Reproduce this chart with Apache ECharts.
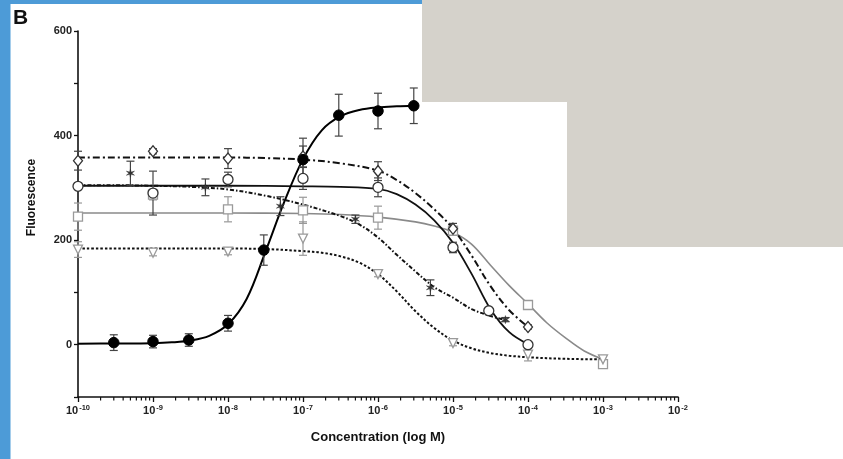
<!DOCTYPE html>
<html>
<head>
<meta charset="utf-8">
<script src="https://cdn.jsdelivr.net/npm/echarts@6/dist/echarts.min.js"></script>
<style>
html,body{margin:0;padding:0;background:#ffffff;}
#chart{width:843px;height:459px;}
</style>
</head>
<body>
<div id="chart"></div>
<script>
// ---------- tick labels ----------
const xTickExponents = [-10, -9, -8, -7, -6, -5, -4, -3, -2];
const yTickLabels = [0, 200, 400, 600];

// ---------- data (concentration in M, fluorescence mean and error) ----------
const filledConc = [3e-10, 1e-9, 3e-9, 1e-8, 3e-8, 1e-7, 3e-7, 1e-6, 3e-6];
const filledMean = [4, 6, 9, 41, 181, 354, 439, 447, 457];
const filledErr  = [15, 12, 12, 15, 29, 41, 40, 34, 34];
const filledFitLogConc = [-10, -9.5, -9, -8.75, -8.5, -8.25, -8, -7.75, -7.5, -7.25, -7, -6.75, -6.5, -6.25, -6, -5.75, -5.52];
const filledFit        = [2, 2.3, 3, 4.5, 8, 17, 39, 88, 178, 273, 355, 410, 437, 449, 454, 456, 457];

const circleConc = [1e-10, 1e-9, 1e-8, 1e-7, 1e-6, 1e-5, 3e-5, 1e-4];
const circleMean = [303, 290, 316, 318, 301, 186, 65, 0];
const circleErr  = [6, 42, 14, 21, 18, 10, 5, 4];
const circleFitLogConc = [-10, -9, -8, -7, -6.5, -6, -5.75, -5.5, -5.25, -5, -4.75, -4.5, -4.25, -4];
const circleFit        = [304, 304, 304, 303, 302, 298, 288, 268, 238, 195, 135, 68, 24, 1];

const diamondConc = [1e-10, 1e-9, 1e-8, 1e-7, 1e-6, 1e-5, 1e-4];
const diamondMean = [352, 370, 356, 360, 332, 222, 34];
const diamondErr  = [18, 5, 19, 20, 18, 10, 4];
const diamondFitLogConc = [-10, -9, -8, -7.5, -7, -6.5, -6, -5.75, -5.5, -5.25, -5, -4.75, -4.5, -4.25, -4];
const diamondFit        = [358, 358, 358, 357, 354, 347, 333, 315, 290, 259, 222, 170, 112, 66, 34];

const asteriskConc = [5e-10, 5e-9, 5e-8, 5e-7, 5e-6, 5e-5];
const asteriskMean = [328, 301, 265, 240, 109, 48];
const asteriskErr  = [23, 16, 18, 8, 15, 4];
const asteriskFitLogConc = [-10, -9.5, -9, -8.5, -8, -7.5, -7, -6.5, -6.25, -6, -5.75, -5.5, -5.25, -5, -4.75, -4.5, -4.3];
const asteriskFit        = [305, 305, 304, 302, 297, 285, 268, 246, 230, 205, 172, 140, 110, 90, 68, 55, 47];

const squareConc = [1e-10, 1e-9, 1e-8, 1e-7, 1e-6, 1e-5, 1e-4, 1e-3];
const squareMean = [245, 287, 259, 257, 243, 218, 76, -37];
const squareErr  = [26, 10, 24, 25, 22, 8, 6, 6];
const squareFitLogConc = [-10, -9, -8, -7, -6.5, -6, -5.5, -5.25, -5, -4.75, -4.5, -4.25, -4, -3.75, -3.5, -3.25, -3];
const squareFit        = [252, 252, 252, 251, 249, 244, 235, 227, 215, 192, 152, 113, 78, 42, 13, -12, -28];

const triangleConc = [1e-10, 1e-9, 1e-8, 1e-7, 1e-6, 1e-5, 1e-4, 1e-3];
const triangleMean = [182, 176, 178, 203, 135, 3, -19, -28];
const triangleErr  = [15, 6, 6, 32, 5, 5, 12, 5];
const triangleFitLogConc = [-10, -9, -8, -7.5, -7, -6.75, -6.5, -6.25, -6, -5.75, -5.5, -5.25, -5, -4.75, -4.5, -4.25, -4, -3.5, -3];
const triangleFit        = [184, 184, 184, 183, 179, 176, 169, 157, 135, 102, 64, 32, 8, -7, -16, -21, -24, -27, -28];

// ---------- helpers ----------
const FONT = 'Liberation Sans, Arial, sans-serif';
const pts = (conc, vals) => conc.map((c, i) => [Math.log10(c), vals[i]]);
const fit = (lx, vals) => lx.map((x, i) => [x, vals[i]]);
const bars = (conc, vals, err) => conc.map((c, i) => [Math.log10(c), vals[i] - err[i], vals[i] + err[i]]);

function curveSeries(data, color, width, dash) {
  return {
    type: 'line', data: data, smooth: 0.35,
    showSymbol: false, symbol: 'none', silent: true, z: 2,
    lineStyle: { color: color, width: width, type: dash || 'solid' }
  };
}
function errorSeries(data, color) {
  return {
    type: 'custom', data: data, z: 3, silent: true,
    encode: { x: 0, y: [1, 2] },
    renderItem: function (params, api) {
      const x = api.value(0);
      const top = api.coord([x, api.value(2)]);
      const bot = api.coord([x, api.value(1)]);
      const w = 4;
      const st = { stroke: color, lineWidth: 1.2 };
      return { type: 'group', children: [
        { type: 'line', shape: { x1: top[0], y1: top[1], x2: bot[0], y2: bot[1] }, style: st },
        { type: 'line', shape: { x1: top[0] - w, y1: top[1], x2: top[0] + w, y2: top[1] }, style: st },
        { type: 'line', shape: { x1: bot[0] - w, y1: bot[1], x2: bot[0] + w, y2: bot[1] }, style: st }
      ]};
    }
  };
}
function markerSeries(data, symbol, size, fill, stroke, bw, rotate) {
  return {
    type: 'scatter', data: data, symbol: symbol, symbolSize: size, symbolRotate: rotate || 0,
    z: 4, silent: true,
    itemStyle: { color: fill, borderColor: stroke, borderWidth: bw, opacity: 1 }
  };
}

// minor (2..9) ticks of each decade, drawn through the axis scale
const minorTickPositions = [];
for (let d = -10; d < -2; d++) {
  for (let k = 2; k <= 9; k++) minorTickPositions.push([d + Math.log10(k)]);
}

const asteriskPath = 'path://M0,-10L1.6,-2.8L8.7,-5L3.2,0L8.7,5L1.6,2.8L0,10L-1.6,2.8L-8.7,5L-3.2,0L-8.7,-5L-1.6,-2.8Z';

const chart = echarts.init(document.getElementById('chart'), null, { renderer: 'canvas' });
chart.setOption({
  backgroundColor: '#ffffff',
  animation: false,
  grid: { left: 78, right: 165, top: 31, bottom: 62, containLabel: false },
  xAxis: {
    type: 'value', min: -10, max: -2, interval: 1,
    name: 'Concentration (log M)', nameLocation: 'middle', nameGap: 34,
    nameTextStyle: { fontFamily: FONT, fontSize: 13, fontWeight: 'bold', color: '#111' },
    axisLine: { show: true, onZero: false, lineStyle: { color: '#111', width: 1.6 } },
    axisTick: { show: true, length: 5, lineStyle: { color: '#111', width: 1.3 } },
    splitLine: { show: false },
    axisLabel: {
      margin: 7,
      formatter: function (v) {
        return xTickExponents.indexOf(v) >= 0 ? '{b|10}{s|' + v + '}' : '';
      },
      rich: {
        b: { fontFamily: FONT, fontSize: 11, fontWeight: 'bold', color: '#222', lineHeight: 14 },
        s: { fontFamily: FONT, fontSize: 7.5, fontWeight: 'bold', color: '#222', lineHeight: 9, verticalAlign: 'top', padding: [0, 0, 0, 1] }
      }
    }
  },
  yAxis: {
    type: 'value', min: -100, max: 600, interval: 100,
    name: 'Fluorescence', nameLocation: 'middle', nameGap: 40, nameRotate: 90,
    nameTextStyle: { fontFamily: FONT, fontSize: 12, fontWeight: 'bold', color: '#111', padding: [0, 0, 0, 33] },
    axisLine: { show: true, onZero: false, lineStyle: { color: '#111', width: 1.6 } },
    axisTick: { show: true, length: 4, lineStyle: { color: '#111', width: 1.3 } },
    splitLine: { show: false },
    axisLabel: {
      margin: 6, fontFamily: FONT, fontSize: 11, fontWeight: 'bold', color: '#222',
      formatter: function (v) { return yTickLabels.indexOf(v) >= 0 ? String(v) : ''; }
    }
  },
  series: [
    // minor x ticks
    {
      type: 'custom', data: minorTickPositions, silent: true, clip: false, z: 1,
      encode: { x: 0 },
      renderItem: function (params, api) {
        const p = api.coord([api.value(0), -100]);
        return { type: 'line', shape: { x1: p[0], y1: p[1], x2: p[0], y2: p[1] + 3.5 },
                 style: { stroke: '#111', lineWidth: 1.2 } };
      }
    },
    // fitted curves
    curveSeries(fit(squareFitLogConc, squareFit), '#8a8a8a', 1.6),
    curveSeries(fit(triangleFitLogConc, triangleFit), '#111', 2, [2.5, 2]),
    curveSeries(fit(asteriskFitLogConc, asteriskFit), '#111', 2, [4, 2, 1.5, 2]),
    curveSeries(fit(diamondFitLogConc, diamondFit), '#111', 2, [7, 3, 2, 3]),
    curveSeries(fit(circleFitLogConc, circleFit), '#111', 1.8),
    curveSeries(fit(filledFitLogConc, filledFit), '#000', 2),
    // error bars
    errorSeries(bars(squareConc, squareMean, squareErr), '#999'),
    errorSeries(bars(triangleConc, triangleMean, triangleErr), '#999'),
    errorSeries(bars(asteriskConc, asteriskMean, asteriskErr), '#444'),
    errorSeries(bars(diamondConc, diamondMean, diamondErr), '#444'),
    errorSeries(bars(circleConc, circleMean, circleErr), '#444'),
    errorSeries(bars(filledConc, filledMean, filledErr), '#444'),
    // markers
    markerSeries(pts(squareConc, squareMean), 'rect', 9, '#ffffff', '#9a9a9a', 1.3),
    markerSeries(pts(triangleConc, triangleMean), 'triangle', 9, '#ffffff', '#9a9a9a', 1.3, 180),
    markerSeries(pts(asteriskConc, asteriskMean), asteriskPath, 8, '#333', '#333', 0.5),
    markerSeries(pts(diamondConc, diamondMean), 'diamond', [9, 11], '#ffffff', '#333', 1.3),
    markerSeries(pts(circleConc, circleMean), 'circle', 10, '#ffffff', '#333', 1.3),
    markerSeries(pts(filledConc, filledMean), 'circle', 10.5, '#000', '#000', 1)
  ],
  graphic: [
    { type: 'text', left: 13, top: 8, z: 50,
      style: { text: 'B', font: 'bold 21px ' + FONT, fill: '#111' } },
    { type: 'rect', left: 0, top: 0, z: 100, silent: true,
      shape: { width: 10.5, height: 459 }, style: { fill: '#4d9bd7' } },
    { type: 'rect', left: 0, top: 0, z: 100, silent: true,
      shape: { width: 422, height: 4 }, style: { fill: '#4d9bd7' } },
    { type: 'rect', left: 422, top: 0, z: 100, silent: true,
      shape: { width: 421, height: 102 }, style: { fill: '#d5d2cb' } },
    { type: 'rect', left: 567, top: 0, z: 100, silent: true,
      shape: { width: 276, height: 247 }, style: { fill: '#d5d2cb' } }
  ]
});
</script>
</body>
</html>
